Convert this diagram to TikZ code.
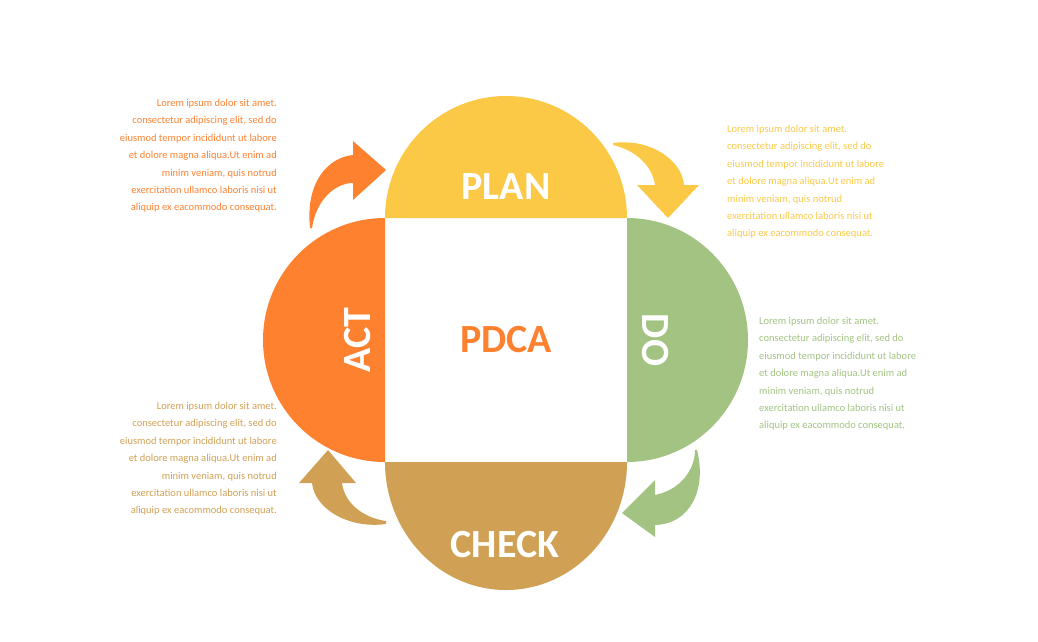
\documentclass[tikz,border=0pt]{standalone}
\usepackage{fontspec}
\setmainfont{Carlito}
\definecolor{cplan}{HTML}{FCC946}
\definecolor{cdo}{HTML}{A2C382}
\definecolor{ccheck}{HTML}{D0A055}
\definecolor{cact}{HTML}{FE8130}
\begin{document}
\begin{tikzpicture}[x=1pt,y=-1pt,
  big/.style={text=white,font=\fontsize{40}{40}\selectfont\bfseries,inner sep=0},
  para/.style={font=\fontsize{10.5}{17.4}\selectfont,inner sep=0}]
\useasboundingbox (0,0) rectangle (1038,641);
% lobes
\fill[cplan] (385,218) arc[start angle=180,end angle=0,x radius=121,y radius=-122] -- cycle;
\fill[cdo] (627,218) arc[start angle=90,end angle=-90,x radius=121,y radius=-122] -- cycle;
\fill[ccheck] (385,462) arc[start angle=180,end angle=360,x radius=121,y radius=-128] -- cycle;
\fill[cact] (385,218) arc[start angle=90,end angle=270,x radius=122,y radius=-122] -- cycle;
% arrows
\fill[cact] (310,228) .. controls (305,180) and (330,157) .. (353,155) -- (353,141) -- (386,170) -- (353,200) -- (353,183) .. controls (335,183) and (316,200) .. (312,228) -- cycle;
\fill[cplan] (613,143) .. controls (650,138) and (682,160) .. (684,185) -- (699,185) -- (668,218) -- (637,185) -- (655,185) .. controls (652,165) and (635,150) .. (613,145) -- cycle;
\fill[cdo] (697,450) .. controls (707,490) and (690,524) .. (655,525) -- (655,537) -- (622,513) -- (655,480) -- (655,495) .. controls (680,490) and (695,470) .. (695,450) -- cycle;
\fill[ccheck] (386,524) .. controls (350,529) and (315,510) .. (312,483) -- (299,483) -- (328,450) -- (356,483) -- (342,483) .. controls (345,505) and (365,518) .. (386,521) -- cycle;
% labels
\node[big] (plan) at (506,187) {PLAN};
\node[big,rotate=-90] (do) at (655,340) {DO};
\node[big] (check) at (505,545) {CHECK};
\node[big,rotate=90] (act) at (358,340) {ACT};
\node[big,text=cact] (pdca) at (506,340) {PDCA};
% texts
\node[para,text=cact,align=right,anchor=north east] (t1) at (277,99) {Lorem ipsum dolor sit amet.\\consectetur adipiscing elit, sed do\\eiusmod tempor incididunt ut labore\\et dolore magna aliqua.Ut enim ad\\minim veniam, quis notrud\\exercitation ullamco laboris nisi ut\\aliquip ex eacommodo consequat.};
\node[para,text=ccheck,align=right,anchor=north east] (t4) at (277,402) {Lorem ipsum dolor sit amet.\\consectetur adipiscing elit, sed do\\eiusmod tempor incididunt ut labore\\et dolore magna aliqua.Ut enim ad\\minim veniam, quis notrud\\exercitation ullamco laboris nisi ut\\aliquip ex eacommodo consequat.};
\node[para,text=cplan,align=left,anchor=north west] (t2) at (727,125) {Lorem ipsum dolor sit amet.\\consectetur adipiscing elit, sed do\\eiusmod tempor incididunt ut labore\\et dolore magna aliqua.Ut enim ad\\minim veniam, quis notrud\\exercitation ullamco laboris nisi ut\\aliquip ex eacommodo consequat.};
\node[para,text=cdo,align=left,anchor=north west] (t3) at (759,317) {Lorem ipsum dolor sit amet.\\consectetur adipiscing elit, sed do\\eiusmod tempor incididunt ut labore\\et dolore magna aliqua.Ut enim ad\\minim veniam, quis notrud\\exercitation ullamco laboris nisi ut\\aliquip ex eacommodo consequat.};
\end{tikzpicture}
\end{document}
